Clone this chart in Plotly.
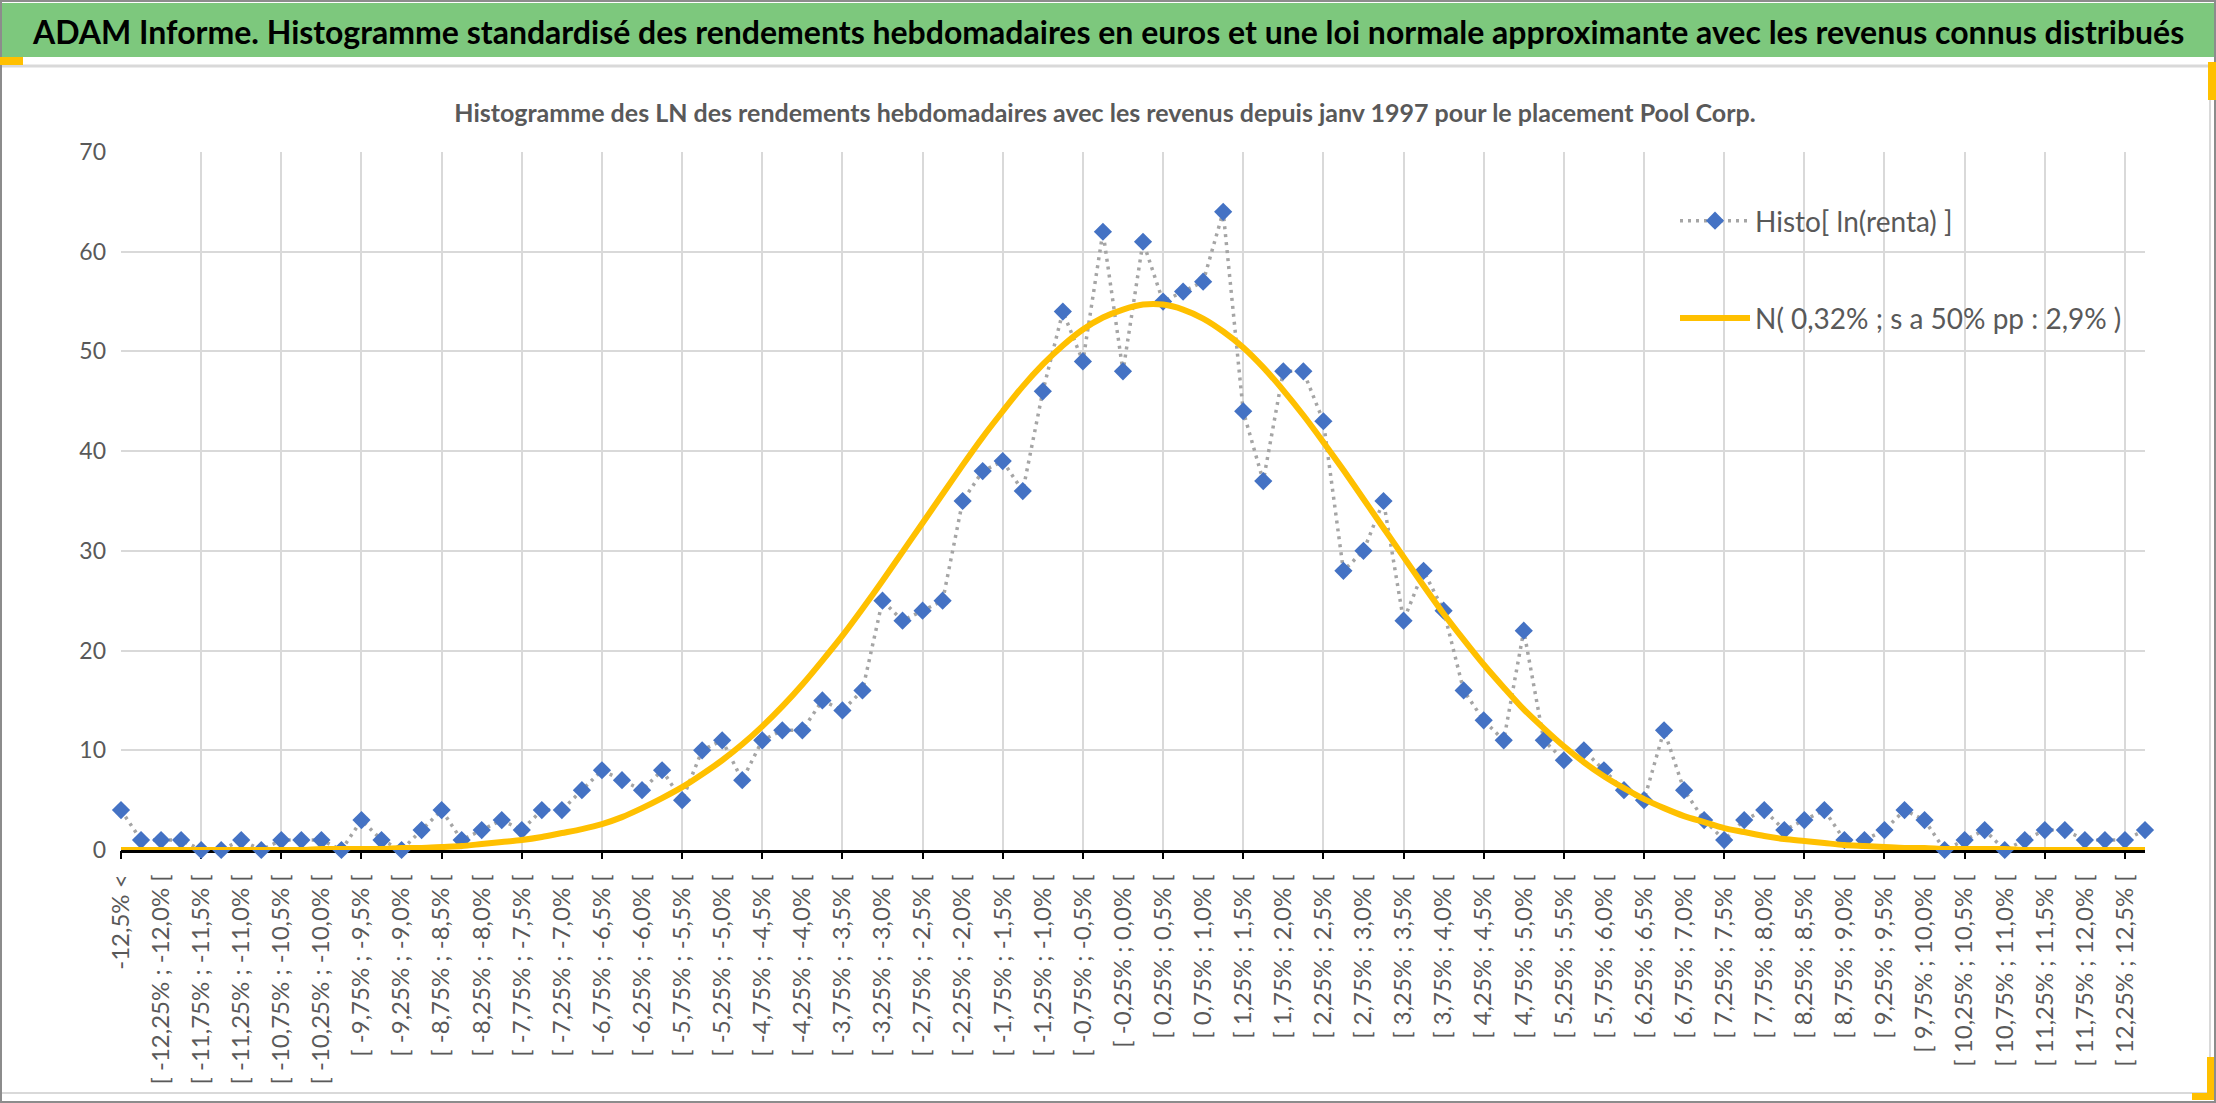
import plotly.graph_objects as go

# bin edges (%) of the weekly log-return histogram
edges = ["-12,5", "-12,25", "-12,0", "-11,75", "-11,5", "-11,25", "-11,0", "-10,75", "-10,5", "-10,25",
         "-10,0", "-9,75", "-9,5", "-9,25", "-9,0", "-8,75", "-8,5", "-8,25", "-8,0", "-7,75",
         "-7,5", "-7,25", "-7,0", "-6,75", "-6,5", "-6,25", "-6,0", "-5,75", "-5,5", "-5,25",
         "-5,0", "-4,75", "-4,5", "-4,25", "-4,0", "-3,75", "-3,5", "-3,25", "-3,0", "-2,75",
         "-2,5", "-2,25", "-2,0", "-1,75", "-1,5", "-1,25", "-1,0", "-0,75", "-0,5", "-0,25",
         "0,0", "0,25", "0,5", "0,75", "1,0", "1,25", "1,5", "1,75", "2,0", "2,25",
         "2,5", "2,75", "3,0", "3,25", "3,5", "3,75", "4,0", "4,25", "4,5", "4,75",
         "5,0", "5,25", "5,5", "5,75", "6,0", "6,25", "6,5", "6,75", "7,0", "7,25",
         "7,5", "7,75", "8,0", "8,25", "8,5", "8,75", "9,0", "9,25", "9,5", "9,75",
         "10,0", "10,25", "10,5", "10,75", "11,0", "11,25", "11,5", "11,75", "12,0", "12,25",
         "12,5"]

labels = ["-12,5% <"]
for a, b in zip(edges[:-1], edges[1:]):
    labels.append("[ %s%% ; %s%% [" % (a, b))
labels.append("12,5% >=")

histo = [4, 1, 1, 1, 0, 0, 1, 0, 1, 1,
         1, 0, 3, 1, 0, 2, 4, 1, 2, 3,
         2, 4, 4, 6, 8, 7, 6, 8, 5, 10,
         11, 7, 11, 12, 12, 15, 14, 16, 25, 23,
         24, 25, 35, 38, 39, 36, 46, 54, 49, 62,
         48, 61, 55, 56, 57, 64, 44, 37, 48, 48,
         43, 28, 30, 35, 23, 28, 24, 16, 13, 11,
         22, 11, 9, 10, 8, 6, 5, 12, 6, 3,
         1, 3, 4, 2, 3, 4, 1, 1, 2, 4,
         3, 0, 1, 2, 0, 1, 2, 2, 1, 1,
         1, 2]

normal = [0.0, 0.0, 0.0, 0.0, 0.0, 0.0, 0.0, 0.0, 0.0, 0.0,
          0.1, 0.1, 0.1, 0.1, 0.2, 0.2, 0.3, 0.4, 0.6, 0.8,
          1.0, 1.3, 1.7, 2.1, 2.6, 3.3, 4.2, 5.2, 6.3, 7.6,
          9.0, 10.6, 12.4, 14.4, 16.6, 19.0, 21.5, 24.2, 27.0, 29.9,
          32.8, 35.7, 38.6, 41.4, 44.0, 46.5, 48.7, 50.6, 52.2, 53.4,
          54.2, 54.7, 54.7, 54.2, 53.3, 52.0, 50.4, 48.4, 46.1, 43.6,
          40.9, 38.1, 35.2, 32.3, 29.4, 26.5, 23.7, 21.1, 18.6, 16.3,
          14.1, 12.2, 10.4, 8.8, 7.4, 6.2, 5.1, 4.2, 3.4, 2.8,
          2.2, 1.8, 1.4, 1.1, 0.9, 0.7, 0.5, 0.4, 0.3, 0.2,
          0.2, 0.1, 0.1, 0.1, 0.1, 0.0, 0.0, 0.0, 0.0, 0.0,
          0.0, 0.0]

idx = list(range(len(labels)))

W, H = 2216, 1103
PL, PR, PT, PB = 121, 2145, 152, 850


# page pixel -> paper coords
def px(x):
    return (x - PL) / (PR - PL)


def py(y):
    return (PB - y) / (PB - PT)


def box(x0, y0, x1, y1, color, layer="below"):
    return dict(type="rect", xref="paper", yref="paper",
                x0=px(x0), x1=px(x1), y0=py(y1), y1=py(y0),
                line=dict(width=0), fillcolor=color, layer=layer)


def hline(x0, x1, y, color, w):
    return dict(type="line", xref="paper", yref="paper",
                x0=px(x0), x1=px(x1), y0=py(y), y1=py(y),
                line=dict(color=color, width=w), layer="below")


GRAY = "#595959"
GRID = "#D9D9D9"
FONT = "Lato"

fig = go.Figure()

fig.add_trace(go.Scatter(
    x=idx, y=histo, mode="lines+markers", name="Histo[ ln(renta) ]",
    line=dict(color="#A5A5A5", width=3.5, dash="3px,5px"),
    marker=dict(symbol="diamond", size=14, color="#4472C4"),
    cliponaxis=False, legendgroup="a"
))
fig.add_trace(go.Scatter(
    x=idx, y=normal, mode="lines", name="N( 0,32% ; s a 50% pp : 2,9% )",
    line=dict(color="#FFC000", width=6, shape="spline", smoothing=0.8),
    cliponaxis=False, legendgroup="b"
))
# empty trace so the grid axis has a subplot
fig.add_trace(go.Scatter(x=[], y=[], xaxis="x2", showlegend=False))

shapes = [
    # green title band
    box(1, 3, W - 1, 57, "#7DC87D"),
    hline(0, W, 66, GRID, 3),
    dict(type="line", xref="paper", yref="paper",
         x0=px(2210), x1=px(2210), y0=py(66), y1=py(1093),
         line=dict(color=GRID, width=2), layer="below"),
    hline(2, 2210, 1093, GRID, 2),
    # outer frame
    dict(type="rect", xref="paper", yref="paper",
         x0=px(1), x1=px(W - 1), y0=py(H - 1), y1=py(1),
         line=dict(color="#8C8C8C", width=2), fillcolor="rgba(0,0,0,0)",
         layer="below"),
    # orange handles
    box(0, 57, 23, 65, "#FFC000"),
    box(2208, 62, 2216, 100, "#FFC000"),
    box(2207, 1057, 2214, 1100, "#FFC000"),
    box(2192, 1093, 2214, 1100, "#FFC000"),
    # white legend box over the grid
    box(1633, 165, 2145, 363, "white", layer="between"),
]

fig.update_layout(
    width=W, height=H,
    margin=dict(l=PL, r=W - PR, t=PT, b=H - PB),
    paper_bgcolor="white", plot_bgcolor="white",
    font=dict(family=FONT, color=GRAY),
    shapes=shapes,
    title=dict(
        text="<b>Histogramme des LN des rendements hebdomadaires avec les revenus depuis janv 1997 pour le placement Pool Corp.</b>",
        x=1105 / W, xref="container", xanchor="center",
        y=1 - 113 / H, yref="container", yanchor="middle",
        font=dict(family=FONT, size=25, color=GRAY)
    ),
    annotations=[dict(
        text="<b>ADAM Informe. Histogramme standardisé des rendements hebdomadaires en euros et une loi normale approximante avec les revenus connus distribués</b>",
        xref="paper", yref="paper", x=px(30), y=py(31),
        xanchor="left", yanchor="middle", showarrow=False,
        font=dict(family=FONT, size=32, color="black")
    )],
    xaxis=dict(
        range=[0, 101], tickmode="array", tickvals=idx[:101:2],
        ticktext=labels[:101:2], tickangle=-90, showgrid=False,
        zeroline=False, showline=True, linecolor="black", linewidth=2.5,
        ticks="", ticklabelstandoff=12, layer="below traces",
        tickfont=dict(family=FONT, size=24, color=GRAY)
    ),
    xaxis2=dict(
        overlaying="x", anchor="y", side="bottom", range=[0, 101],
        tickmode="linear", tick0=0, dtick=4, showgrid=True,
        gridcolor=GRID, gridwidth=1.5, ticks="outside", ticklen=8,
        tickwidth=2, tickcolor="black", showticklabels=False,
        zeroline=False, layer="below traces"
    ),
    yaxis=dict(
        range=[0, 70], dtick=10, showgrid=True, gridcolor=GRID,
        gridwidth=1.5, zeroline=False, showline=False, ticks="",
        ticklabelstandoff=14,
        tickfont=dict(family=FONT, size=23, color=GRAY)
    ),
    legend=dict(
        x=px(1675), y=py(196), xanchor="left", yanchor="top",
        bgcolor="rgba(0,0,0,0)", itemwidth=70, traceorder="grouped",
        tracegroupgap=58, font=dict(family=FONT, size=28, color=GRAY)
    ),
    showlegend=True,
)

fig.write_html(
    "out.html",
    config={"displayModeBar": False},
    post_script="document.body.style.margin='0';document.body.style.overflow='hidden';"
)
